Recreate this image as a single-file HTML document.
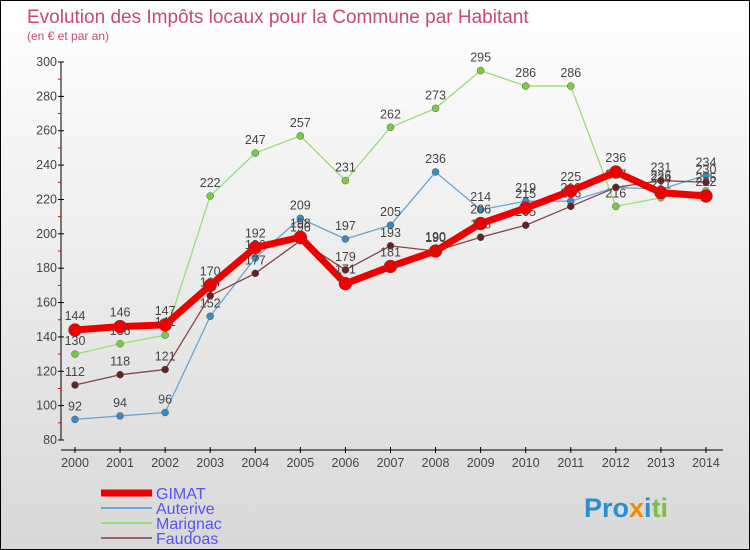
<!DOCTYPE html>
<html><head><meta charset="utf-8"><style>
body{margin:0}
#c{width:748px;height:548px;border:1px solid #000;background:linear-gradient(#fff,#d8d8d8);position:relative;font-family:"Liberation Sans",sans-serif;overflow:hidden}
</style></head><body>
<div id="c">
<svg width="748" height="548" id="s">
<text x="26" y="22" font-size="19" fill="#c44a78">Evolution des Impôts locaux pour la Commune par Habitant</text>
<text x="26" y="39" font-size="12" fill="#c44a78">(en € et par an)</text>
<g id="axes"></g><g id="series"></g><g id="legend"></g>
<text x="583" y="516" font-size="27" font-weight="bold"><tspan fill="#2a8fd0">Pro</tspan><tspan fill="#f08a00">x</tspan><tspan fill="#2a8fd0">i</tspan><tspan fill="#7ac143">ti</tspan></text>
</svg></div>
<script>
const years=[2000,2001,2002,2003,2004,2005,2006,2007,2008,2009,2010,2011,2012,2013,2014];
const yTicks=[80,100,120,140,160,180,200,220,240,260,280,300];
const gimat=[144,146,147,170,192,198,171,181,190,206,215,225,236,224,222];
const auterive=[92,94,96,152,186,209,197,205,236,214,219,219,227,226,234];
const marignac=[130,136,141,222,247,257,231,262,273,295,286,286,216,221,225];
const faudoas=[112,118,121,164,177,196,179,193,190,198,205,216,227,231,230];
const NS="http://www.w3.org/2000/svg";
const X=i=>74+i*45.07, Y=v=>439-(v-80)*(378/220);
function mk(t,a,p){const e=document.createElementNS(NS,t);for(const k in a)e.setAttribute(k,a[k]);p.appendChild(e);return e;}
const ax=document.getElementById('axes');
let l=mk('line',{x1:60,y1:Y(300),x2:60,y2:Y(80),stroke:'#000'},ax);


l=mk('line',{x1:60,y1:449,x2:722,y2:449,stroke:'#000'},ax);


yTicks.forEach((v,i)=>{
 mk('line',{x1:57,y1:Y(v),x2:63,y2:Y(v),stroke:'#000'},ax);
 if(i<yTicks.length-1) mk('line',{x1:57,y1:Y(v+10),x2:60,y2:Y(v+10),stroke:'#e00'},ax);
 const t=mk('text',{x:56,y:Y(v)+4,'font-size':12.5,'text-anchor':'end',fill:'#444'},ax);t.textContent=v;
 
 
});
years.forEach((y,i)=>{
 mk('line',{x1:X(i),y1:446,x2:X(i),y2:452,stroke:'#000'},ax);
 const t=mk('text',{x:X(i),y:466,'font-size':12.5,'text-anchor':'middle',fill:'#444'},ax);t.textContent=y;
 
 
});
const sg=document.getElementById('series');
function series(d,name,col,w,r,dot,dy){
 const g=mk('g',{},sg);
 
 
 mk('polyline',{points:d.map((v,i)=>X(i)+','+Y(v)).join(' '),fill:'none',stroke:col,'stroke-width':w,'stroke-linejoin':'round'},g);
 d.forEach((v,i)=>{
  const c=mk('circle',{cx:X(i),cy:Y(v),r:r,fill:dot,stroke:'#555','stroke-width':0.5},g);
  
  
  const t=mk('text',{x:X(i),y:Y(v)-dy,'font-size':12.5,'text-anchor':'middle',fill:'#444'},g);t.textContent=v;
  
  
 });
}
series(marignac,'marignac','#99dd77',1.3,3.5,'#77cc44',9);
series(auterive,'auterive','#6aa6cf',1.3,3.5,'#3a8ac4',9);
series(faudoas,'faudoas','#884444',1.3,3.5,'#662222',9);
series(gimat,'gimat','#ee0000',7,6.5,'#ee0000',10);
const lg=document.getElementById('legend');
[['GIMAT','#ee0000',7],['Auterive','#6aa6cf',2],['Marignac','#99dd77',2],['Faudoas','#996666',2]].forEach((e,i)=>{
 const y=492+i*15;
 const li=mk('line',{x1:100,y1:y,x2:151,y2:y,stroke:e[1],'stroke-width':e[2]},lg);
 
 
 const t=mk('text',{x:155,y:y+6,'font-size':16,fill:'#5555ee'},lg);t.textContent=e[0];
 
 
});
</script></body></html>
